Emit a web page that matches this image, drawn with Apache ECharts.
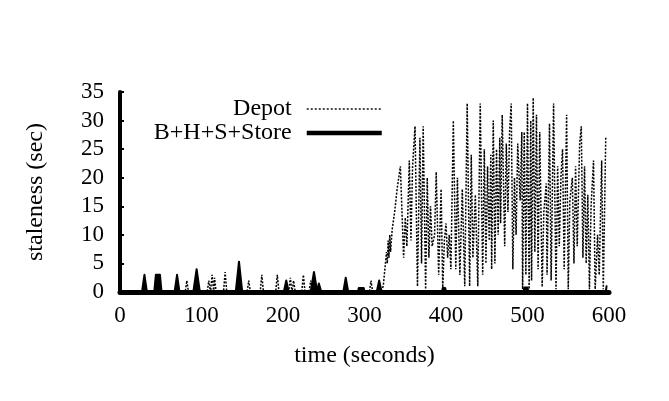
<!DOCTYPE html>
<html>
<head>
<meta charset="utf-8">
<script src="https://cdn.jsdelivr.net/npm/echarts@6/dist/echarts.min.js"></script>
<style>html,body{margin:0;padding:0;background:#fff;}#c{width:669px;height:401px;}</style>
</head>
<body>
<div id="c"></div>
<script>
// Depot staleness (time in seconds, staleness in seconds)
const depotTime = [0,80,82,84,95,96,97,107,109,111,113,115,116,118,127,129,131,156,158,160,172,174,176,191,193,195,207,209,211,213,215,223,225,227,232,234,236,238,240,306,308,310,320,
  323,325,327,328,329,330,331,332,334,337,340,344,348,350,352,355,357,359,362,365,368,370,372,375,377,379,381,383,386,388,391,394,396,398,400,402,404,406,409,412,414,417,420,423,426,429,431,433,436,439,442,445,447,449,451,453,455,456,458,460,462,464,466,467,469,472,474,476,478,480,482,484,486,488,491,493,494,496,498,500,502,504,505,507,509,511,513,515,518,520,523,524,527,529,532,535,537,539,541,543,545,548,550,552,555,557,559,561,564,566,568,570,572,574,576,578,581,583,586,588,591,593,596];
const depotValue = [0,0,2,0,0,0.5,0,0,2,0,3,0,2.5,0,0,3.5,0,0,2,0,0,3,0,0,3,0,0,2.5,0,2,0,0,3,0,0,2,0.5,2,0,0,2,0,0,
  1,4,7,5,9,6,10,7,11,14,18,22,6,13,8,23,9,22,29,1,27,5,29,0.5,20,6,15,8,10,21,3,18,0.5,9,12,6,10,4,30,4,20,3,18,1,33,1,24,6,17,1,33,3,25,5,22,9,24,4,30,5,25,10,27,12,31,8,26,14,28,33,4,20,10,26,16,28,0.5,28,3,33,0.5,30,2,34,7,31,4,28,0.9,14,19,3,29.5,2,33,0.5,22,8,20,25,4,31,0.5,16,20,5,22,8,26,29,6,22,5,17,0.5,15,23,0.5,10,3,23,0.5,27];

// B+H+S+Store staleness
const bhsTime = [0,27,30,33,42,44,49,51,67,70,73,90,94,98,142,146,150,201,204,207,234,238,242,244,247,274,277,280,292,293,299,300,315,318,321,395,396,399,400,495,496,500,501,596,597,598];
const bhsValue = [0,0,3,0,0,3,3,0,0,3,0,0,4,0,0,5.3,0,0,2,0,0,3.5,0,1.5,0,0,2.5,0,0,0.7,0.7,0,0,2,0,0,0.7,0.7,0,0,0.8,0.8,0,0,1,1];

const xTicks = [0,100,200,300,400,500,600];
const yTicks = [0,5,10,15,20,25,30,35];

const depotData = depotTime.map((t,i)=>[t, depotValue[i]]);
const bhsData = bhsTime.map((t,i)=>[t, bhsValue[i]]);

const FONT = 'Liberation Serif';
const chart = echarts.init(document.getElementById('c'), null, {renderer:'canvas'});
chart.setOption({
  animation: false,
  backgroundColor: '#fff',
  grid: {left:120, right:60, top:92, bottom:109, containLabel:false},
  legend: {
    orient: 'vertical', align: 'right', right: 280, top: 92,
    itemWidth: 75, itemHeight: 10, itemGap: 0,
    itemStyle: {opacity: 0},
    textStyle: {fontFamily: FONT, fontSize: 24, color: '#000', lineHeight: 24, padding: [0, 10, 0, 0]},
    data: [
      {name: 'Depot', lineStyle: {color: '#111', width: 1.3, type: [2, 2]}},
      {name: 'B+H+S+Store', lineStyle: {color: '#000', width: 4.5, type: 'solid'}}
    ]
  },
  xAxis: {
    type: 'value', min: 0, max: 600, interval: 100,
    name: 'time (seconds)', nameLocation: 'middle', nameGap: 52,
    nameTextStyle: {fontFamily: FONT, fontSize: 24, color: '#000'},
    axisLine: {show: true, lineStyle: {color: '#000', width: 5}},
    axisTick: {show: false},
    splitLine: {show: false},
    axisLabel: {fontFamily: FONT, fontSize: 23, color: '#000', margin: 12,
      formatter: v => xTicks.includes(v) ? String(v) : ''}
  },
  yAxis: {
    type: 'value', min: 0, max: 35, interval: 5,
    name: 'staleness (sec)', nameLocation: 'middle', nameGap: 72, nameRotate: 90,
    nameTextStyle: {fontFamily: FONT, fontSize: 24, color: '#000'},
    axisLine: {show: true, lineStyle: {color: '#000', width: 4}},
    axisTick: {show: true, inside: true, length: 4, lineStyle: {color: '#000', width: 2}},
    splitLine: {show: false},
    axisLabel: {fontFamily: FONT, fontSize: 23, color: '#000', margin: 16,
      formatter: v => yTicks.includes(v) ? String(v) : ''}
  },
  series: [
    {
      name: 'Depot', type: 'line', data: depotData, symbol: 'none', showSymbol: false,
      lineStyle: {color: '#000', width: 1.5, type: [2, 1.5]},
      itemStyle: {color: '#111'}, z: 2
    },
    {
      name: 'B+H+S+Store', type: 'line', data: bhsData, symbol: 'none', showSymbol: false,
      lineStyle: {color: '#000', width: 2, join: 'round'},
      areaStyle: {color: '#000', opacity: 1},
      itemStyle: {color: '#000'}, z: 3
    }
  ]
});
</script>
</body>
</html>
